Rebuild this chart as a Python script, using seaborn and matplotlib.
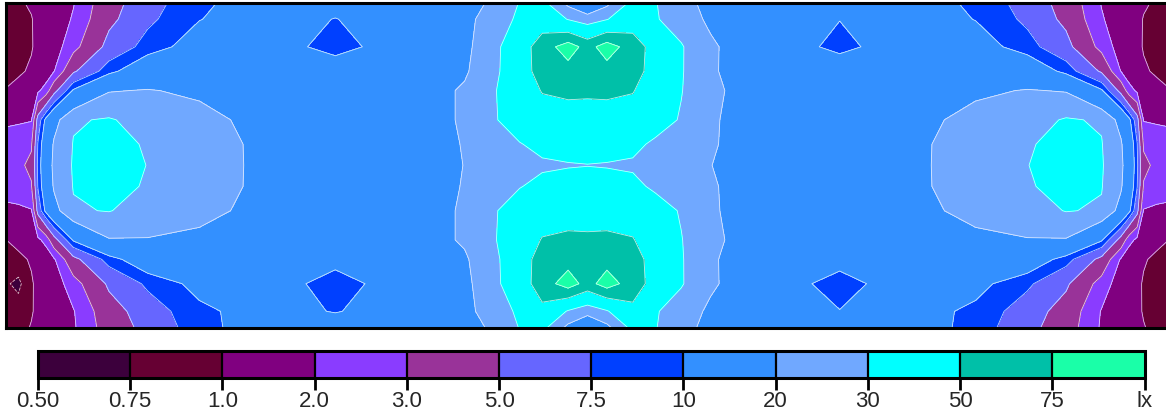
import numpy as np
import seaborn as sns
import matplotlib.pyplot as plt

# illuminance bands (lx) and their colours
levels = [0.5, 0.75, 1.0, 2.0, 3.0, 5.0, 7.5, 10, 20, 30, 50, 75, 100]
level_labels = ['0.50', '0.75', '1.0', '2.0', '3.0', '5.0', '7.5', '10', '20', '30', '50', '75', 'lx']
band_colors = ['#3c003c', '#660033', '#800080', '#8a3cff', '#993399', '#6666ff',
               '#0040ff', '#3390ff', '#70a8ff', '#00ffff', '#00c0a8', '#1affa8']

# calculation grid of the room (m), 36 x 10
x_pos = [0.0, 0.4, 0.8, 1.0, 1.25, 1.5, 2.1, 3.2, 4.4, 6.0, 7.5, 9.1, 10.2, 11.5, 13.1, 14.2,
         15.1, 15.9, 16.6, 17.4, 18.0, 18.6, 19.4, 20.1, 20.9, 21.8, 22.9, 24.5, 25.8, 26.9,
         28.5, 30.0, 31.6, 32.8, 33.9, 34.5, 34.75, 35.0, 35.2, 35.6, 36.0]
y_pos = [0.0, 0.5, 1.35, 2.1, 2.7, 3.6, 4.35, 5.0, 5.65, 6.4, 7.3, 7.9, 8.65, 9.5, 10.0]

# lux values, one list per grid row (top wall -> bottom wall)
row_00 = [0.8, 0.95, 1.05, 1.15, 1.3, 1.45, 1.95, 4.2, 6.5, 9.5, 11, 11.2, 10.6, 11.5, 13, 16, 22, 30.5, 34, 18, 12,
          18, 34, 30.5, 24, 17, 13, 11.5, 10.6, 11.2, 11, 9.5, 6.5, 4.2, 1.95, 1.45, 1.3, 1.15, 1.05, 0.95, 0.8]
row_01 = [0.78, 0.85, 0.98, 1.1, 1.3, 1.5, 2.1, 4.5, 7.0, 9.9, 11.5, 10.4, 9.95, 10.6, 14, 17.5, 25, 32, 40, 29.5, 25,
          29.5, 40, 31, 25, 18.5, 14, 10.8, 10.05, 10.5, 11.5, 9.9, 7.0, 4.5, 2.1, 1.5, 1.3, 1.1, 0.98, 0.85, 0.78]
row_02 = [0.78, 0.8, 0.96, 1.15, 1.35, 1.65, 2.6, 5.8, 8.5, 12, 13, 10.3, 9.0, 10.6, 15.5, 18, 27, 40, 62, 90, 65,
          90, 62, 42, 31, 21.5, 16, 10.8, 9.3, 10.5, 13, 12, 8.5, 5.8, 2.6, 1.65, 1.35, 1.15, 0.96, 0.8, 0.78]
row_03 = [0.85, 0.92, 1.08, 1.25, 1.5, 1.97, 4.7, 9.0, 14, 15, 14.5, 13, 12, 13.5, 17, 19, 27, 42, 58, 65, 66,
          65, 58, 43, 31, 21, 17, 13.5, 12, 13, 14.5, 15, 14, 9.0, 4.7, 1.97, 1.5, 1.25, 1.08, 0.92, 0.85]
row_04 = [1.02, 1.2, 1.5, 1.85, 2.4, 4.3, 10.5, 19.5, 20.5, 18.5, 15, 14, 13.5, 14.5, 17.5, 21, 29, 40, 51, 53, 53,
          53, 51, 40, 30.5, 21.5, 18, 15, 13.8, 14.2, 15, 18.5, 20.5, 19.5, 10.5, 4.3, 2.4, 1.85, 1.5, 1.2, 1.02]
row_05 = [1.85, 1.9, 1.95, 6.0, 11, 17, 29, 31, 26, 23, 18.5, 15, 14, 15, 17.5, 21, 29, 36, 42, 44, 43,
          44, 42, 36, 29, 21, 17.5, 15, 14, 15, 18.5, 23, 26, 31, 29, 17, 11, 6.0, 1.95, 1.9, 1.85]
row_06 = [2.4, 2.5, 2.85, 7.6, 14, 21, 30.5, 38, 28, 25, 19.5, 16, 15, 15.5, 17, 20.5, 25, 29.5, 33, 35, 34,
          35, 33, 28, 25, 21, 17, 15.5, 15, 16, 19.5, 25, 28, 38, 30.5, 21, 14, 7.6, 2.85, 2.5, 2.4]
row_07 = [2.6, 2.75, 3.3, 8, 15, 22, 31, 42, 29.5, 26, 19.5, 16, 15.5, 15.5, 16.5, 20.2, 24, 27, 28.5, 29.3, 29.8,
          29.3, 28.5, 27, 24, 20.2, 16.5, 15.5, 15.5, 16, 19.5, 26, 29.5, 42, 31, 22, 15, 8, 3.3, 2.75, 2.6]
row_08 = [2.4, 2.5, 2.9, 7.6, 14, 21, 30.5, 38, 28, 25, 19.5, 16, 15, 15.5, 17, 20.5, 25, 29.5, 33, 35, 34,
          35, 33, 28, 25, 21, 17, 15.5, 15, 16, 19.5, 25, 28, 38, 30.5, 21, 14, 7.6, 2.9, 2.5, 2.4]
row_09 = [1.8, 1.85, 1.95, 5.8, 11, 17, 29, 30.5, 25.5, 23, 18.5, 15, 14, 15, 17.5, 21, 29, 36, 42, 44, 43,
          44, 42, 36, 29, 21, 17.5, 15, 14, 15, 18.5, 23, 25.5, 30.5, 29, 17, 11, 5.8, 1.95, 1.85, 1.8]
row_10 = [0.99, 1.15, 1.45, 1.8, 2.35, 4.2, 10.5, 19.5, 19.6, 18, 15, 13.5, 13, 14, 17.5, 21, 29, 40, 51, 53, 53,
          53, 51, 40, 30.5, 21.5, 18, 14.5, 13.3, 13.8, 15, 18, 19.6, 19.5, 10.5, 4.2, 2.35, 1.8, 1.45, 1.15, 0.99]
row_11 = [0.85, 0.9, 1.05, 1.22, 1.45, 1.9, 4.4, 8.6, 13.5, 14.5, 14, 12.5, 11.5, 13, 17, 19, 27, 42, 58, 65, 66,
          65, 58, 43, 31, 21, 17, 13, 11.5, 12.5, 14, 14.5, 13.5, 8.6, 4.4, 1.9, 1.45, 1.22, 1.05, 0.9, 0.85]
row_12 = [0.78, 0.7, 0.95, 1.12, 1.3, 1.6, 2.5, 5.4, 8.0, 11.2, 12.5, 10.4, 8.3, 10.8, 15.5, 18, 27, 40, 62, 90, 65,
          90, 62, 42, 31, 21.5, 16, 10.8, 8.6, 10.5, 12.5, 11.2, 8.0, 5.4, 2.5, 1.6, 1.3, 1.12, 0.95, 0.8, 0.78]
row_13 = [0.8, 0.85, 0.97, 1.08, 1.25, 1.45, 1.95, 4.1, 6.3, 9.3, 11, 10.3, 9.9, 10.5, 14, 17.5, 25, 32, 45, 29, 24,
          29, 45, 31, 25, 18.5, 14, 10.6, 10.1, 10.5, 11, 9.3, 6.3, 4.1, 1.95, 1.45, 1.25, 1.08, 0.97, 0.85, 0.8]
row_14 = [0.8, 0.9, 1.02, 1.12, 1.25, 1.4, 1.9, 3.8, 5.8, 9.0, 11.2, 11.5, 11, 11.5, 13, 16, 22, 30.5, 34, 18, 12,
          18, 34, 30.5, 24, 17, 13, 11.5, 11, 11.5, 11.2, 9.0, 5.8, 3.8, 1.9, 1.4, 1.25, 1.12, 1.02, 0.9, 0.8]

lux = np.array([row_00, row_01, row_02, row_03, row_04, row_05, row_06, row_07,
                row_08, row_09, row_10, row_11, row_12, row_13, row_14])

sns.set_style('white')
plt.rcParams['font.family'] = ['Liberation Sans', 'DejaVu Sans']
palette = sns.color_palette(band_colors)

W, H = 1166, 412
fig = plt.figure(figsize=(W / 100, H / 100), dpi=100)
ax = fig.add_axes([5.5 / W, 1 - 327.5 / H, 1164 / W, 324.5 / H])

# contour in log space so bands spread like the lux scale
X, Y = np.meshgrid(x_pos, y_pos)
Z = np.log10(lux)
log_levels = np.log10(levels)
cs = ax.contourf(X, Y, Z, levels=log_levels, colors=palette)
ax.contour(X, Y, Z, levels=log_levels[1:-1], colors='white', linewidths=0.6, alpha=0.75)
ax.set_xlim(0, 36)
ax.set_ylim(10, 0)
ax.set_xticks([])
ax.set_yticks([])
for sp in ax.spines.values():
    sp.set_linewidth(2.2)
    sp.set_color('black')

cax = fig.add_axes([38 / W, 1 - 377.5 / H, 1106.5 / W, 27 / H])
cb = fig.colorbar(cs, cax=cax, orientation='horizontal', spacing='uniform', drawedges=True)
cb.set_ticks(log_levels)
cb.set_ticklabels(level_labels)
cb.outline.set_linewidth(2.2)
cb.outline.set_color('black')
cb.dividers.set_color('black')
cb.dividers.set_linewidth(1.6)
cax.tick_params(axis='x', length=8.5, width=2, labelsize=16, pad=1.5, color='black')

fig.savefig('out.png', dpi=100)
